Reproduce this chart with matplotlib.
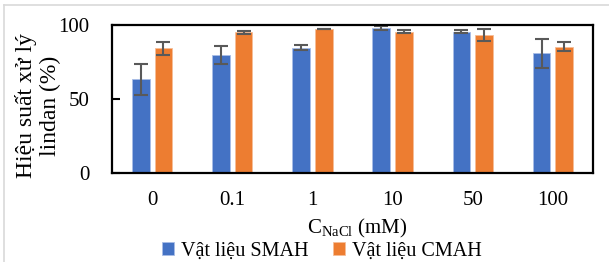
import numpy as np
import matplotlib.pyplot as plt
from matplotlib.lines import Line2D

plt.rcParams['font.family'] = ['Liberation Serif', 'DejaVu Serif']
plt.rcParams['mathtext.fontset'] = 'custom'
plt.rcParams['mathtext.rm'] = 'Liberation Serif'

categories = ['0', '0.1', '1', '10', '50', '100']
smah = [63.2, 79.7, 84.7, 97.7, 95.5, 80.8]
smah_err = [10.7, 6.0, 1.7, 1.3, 1.0, 9.7]
cmah = [84.2, 95.0, 97.3, 95.5, 93.0, 85.3]
cmah_err = [4.6, 1.0, 0.3, 1.0, 4.0, 3.2]

blue = '#4472C4'
orange = '#ED7D31'
errc = '#595959'

fig = plt.figure(figsize=(6.09, 2.62), dpi=100)
ax = fig.add_axes([112/609, 1-172.7/262, 481/609, 147.7/262])

x = np.arange(len(categories))
w = 0.22
off = 0.141
ek = dict(ecolor=errc, elinewidth=1.5, capsize=5, capthick=1.5)
ax.bar(x - off, smah, w, color=blue, edgecolor='#a9bde6', linewidth=0.6,
       yerr=smah_err, error_kw=ek, label='Vật liệu SMAH')
ax.bar(x + off, cmah, w, color=orange, edgecolor='#f6bd98', linewidth=0.6,
       yerr=cmah_err, error_kw=ek, label='Vật liệu CMAH')

ax.set_xlim(-0.5, len(categories) - 0.5)
ax.set_ylim(0, 100)
ax.set_yticks([0, 50, 100])
ax.set_xticks(x)
ax.set_xticklabels(categories)
ax.tick_params(axis='x', length=0, pad=13, labelsize=15)
ax.tick_params(axis='y', direction='in', length=6, width=1.5, pad=16, labelsize=15)
for s in ax.spines.values():
    s.set_linewidth(1.6)
    s.set_color('black')

fig.text(38/609, 1-106/262, 'Hiệu suất xử lý\nlindan (%)', rotation=90,
         ha='center', va='center', fontsize=17, multialignment='center',
         linespacing=1.2)
fig.text(357/609, 1-228/262, r'C$_{\mathrm{NaCl}}$ (mM)', ha='center', va='center',
         fontsize=15)

fig.legend(loc='center', bbox_to_anchor=(322/609, 1-251/262), ncol=2,
           frameon=False, fontsize=14.5, handlelength=0.6, handleheight=0.6,
           handletextpad=0.35, columnspacing=1.2, borderpad=0)

# light grey frame around the chart area
fig.add_artist(Line2D([4/609, 1], [1-5/262, 1-5/262], transform=fig.transFigure,
                      color='#d9d9d9', linewidth=1.2))
fig.add_artist(Line2D([4/609, 4/609], [0, 1-5/262], transform=fig.transFigure,
                      color='#d9d9d9', linewidth=1.2))

fig.savefig('out.png', dpi=100)
